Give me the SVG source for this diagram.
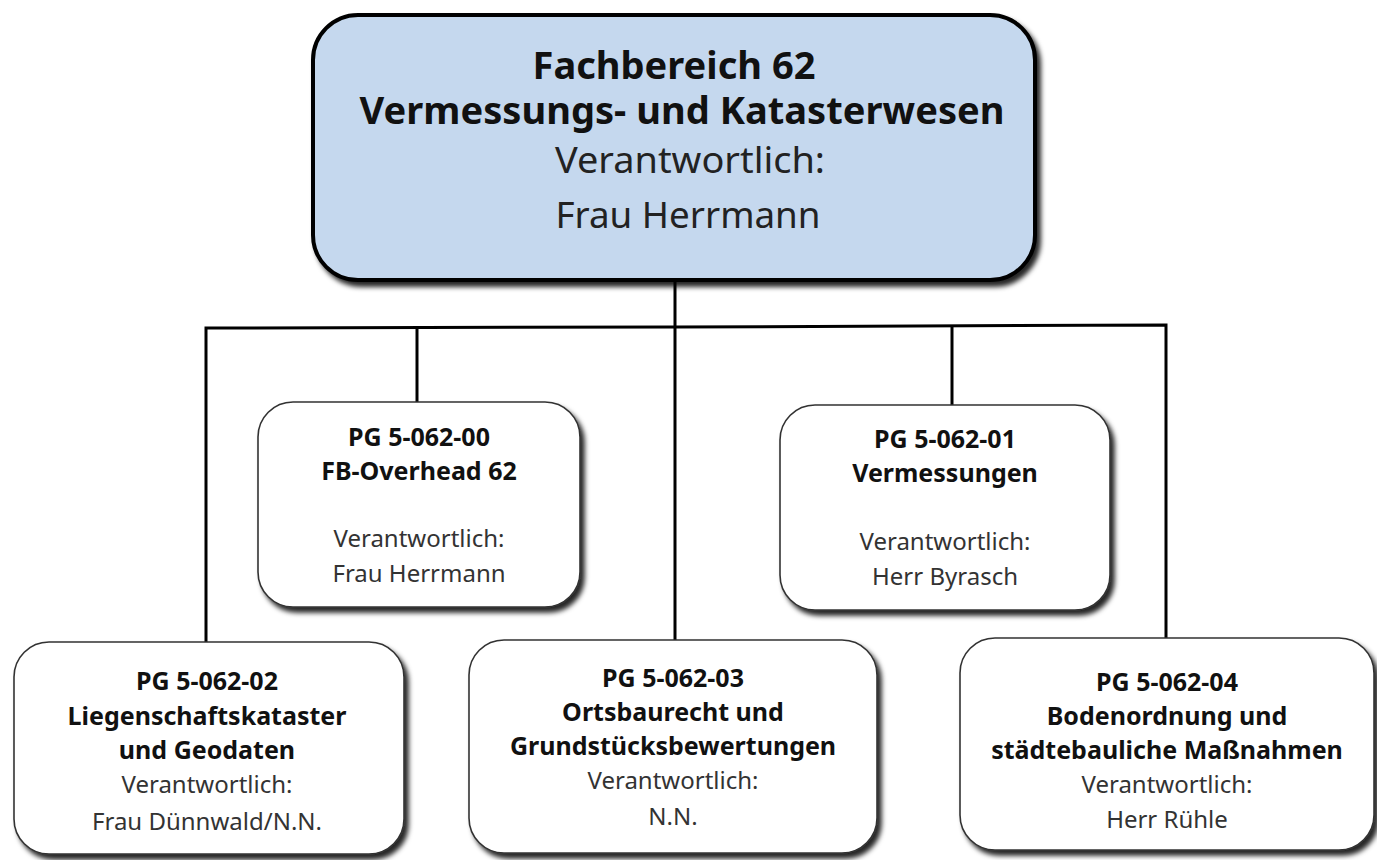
<svg xmlns="http://www.w3.org/2000/svg" width="1377" height="860" viewBox="0 0 1377 860">
<defs>
<filter id="sh" x="-10%" y="-10%" width="125%" height="130%">
<feDropShadow dx="4" dy="5" stdDeviation="2.5" flood-color="#000" flood-opacity="0.85"/>
</filter>
<style>
.box{fill:#fff;stroke:#333;stroke-width:1.6;filter:url(#sh)}
.top{fill:#c5d8ee;stroke:#000;stroke-width:4;filter:url(#sh)}
.c{stroke:#000;stroke-width:3;fill:none}
text{font-family:"Noto Sans","Open Sans",sans-serif;text-anchor:middle}
.b{font-weight:bold;font-size:25px;fill:#111}
.r{font-size:24px;fill:#333}
.tb{font-weight:bold;font-size:38px;fill:#111}
.tr{font-size:37px;fill:#222}
</style>
</defs>
<rect width="1377" height="860" fill="#fff"/>
<g id="connectors">
<line class="c" x1="675" y1="280" x2="675" y2="640"/>
<polyline class="c" points="206,642 206,328 675,327 1166,325 1166,638"/>
<line class="c" x1="417" y1="328" x2="417" y2="402"/>
<line class="c" x1="952" y1="326" x2="952" y2="405"/>
</g>
<g id="n62">
<rect class="top" x="313" y="15" width="722" height="265" rx="45"/>
<text class="tb" x="674" y="79" textLength="283" lengthAdjust="spacingAndGlyphs">Fachbereich 62</text>
<text class="tb" x="682" y="124" textLength="645" lengthAdjust="spacingAndGlyphs">Vermessungs- und Katasterwesen</text>
<text class="tr" x="690" y="173" textLength="270" lengthAdjust="spacingAndGlyphs">Verantwortlich:</text>
<text class="tr" x="688" y="228" textLength="265" lengthAdjust="spacingAndGlyphs">Frau Herrmann</text>
</g>
<g id="pg00">
<rect class="box" x="258" y="402" width="322" height="205" rx="35"/>
<text class="b" x="419" y="446">PG 5-062-00</text>
<text class="b" x="419" y="480">FB-Overhead 62</text>
<text class="r" x="419" y="547">Verantwortlich:</text>
<text class="r" x="419" y="582">Frau Herrmann</text>
</g>
<g id="pg01">
<rect class="box" x="780" y="405" width="330" height="205" rx="35"/>
<text class="b" x="945" y="448">PG 5-062-01</text>
<text class="b" x="945" y="482">Vermessungen</text>
<text class="r" x="945" y="550">Verantwortlich:</text>
<text class="r" x="945" y="585">Herr Byrasch</text>
</g>
<g id="pg02">
<rect class="box" x="14" y="642" width="390" height="212" rx="35"/>
<text class="b" x="207" y="690">PG 5-062-02</text>
<text class="b" x="207" y="725">Liegenschaftskataster</text>
<text class="b" x="207" y="759">und Geodaten</text>
<text class="r" x="207" y="793">Verantwortlich:</text>
<text class="r" x="207" y="830">Frau Dünnwald/N.N.</text>
</g>
<g id="pg03">
<rect class="box" x="469" y="640" width="408" height="213" rx="35"/>
<text class="b" x="673" y="687">PG 5-062-03</text>
<text class="b" x="673" y="721">Ortsbaurecht und</text>
<text class="b" x="673" y="755">Grundstücksbewertungen</text>
<text class="r" x="673" y="789">Verantwortlich:</text>
<text class="r" x="673" y="825">N.N.</text>
</g>
<g id="pg04">
<rect class="box" x="960" y="638" width="414" height="212" rx="35"/>
<text class="b" x="1167" y="691">PG 5-062-04</text>
<text class="b" x="1167" y="725">Bodenordnung und</text>
<text class="b" x="1167" y="759">städtebauliche Maßnahmen</text>
<text class="r" x="1167" y="793">Verantwortlich:</text>
<text class="r" x="1167" y="828">Herr Rühle</text>
</g>
</svg>
